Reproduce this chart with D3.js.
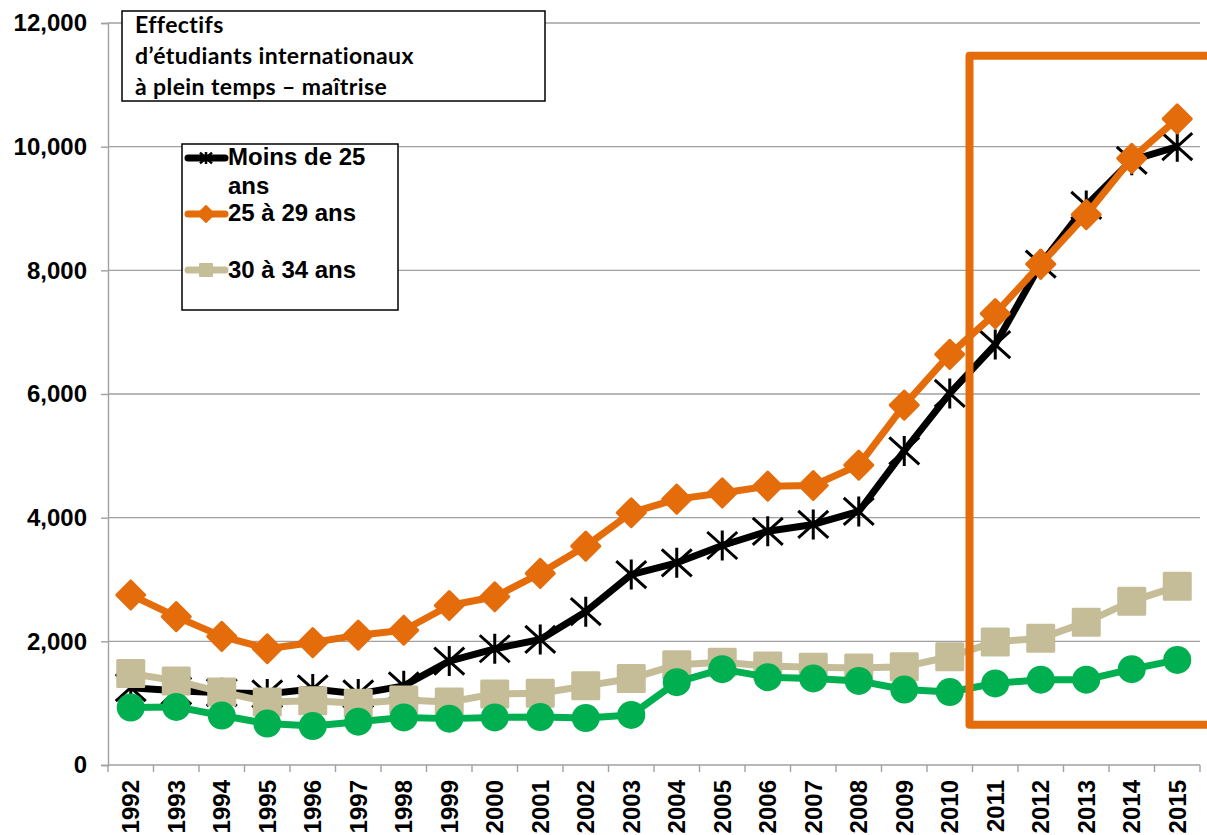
<!DOCTYPE html>
<html>
<head>
<meta charset="utf-8">
<script src="https://cdn.jsdelivr.net/npm/d3@7"></script>
<style>
  body { margin: 0; background: #fff; }
  svg { display: block; }
  .lbl { font-family: "Liberation Sans", Arial, sans-serif; font-weight: bold; font-size: 24px; fill: #000; }
</style>
</head>
<body>
<svg width="1207" height="835"></svg>
<script>
var width = 1207,
    height = 835;

// annees (axe des x)
var years = ["1992","1993","1994","1995","1996","1997","1998","1999","2000","2001","2002","2003",
             "2004","2005","2006","2007","2008","2009","2010","2011","2012","2013","2014","2015"];

// series
var moins25 = [1250,1200,1170,1150,1230,1150,1280,1680,1880,2030,2480,3080,
               3270,3550,3780,3890,4100,5080,6010,6800,8100,9050,9780,10000];
var de25a29 = [2750,2400,2080,1880,1980,2100,2180,2580,2720,3100,3540,4080,
               4300,4400,4510,4520,4850,5820,6640,7300,8100,8900,9810,10450];
var de30a34 = [1480,1360,1180,1020,1040,1000,1050,1020,1150,1160,1280,1400,
               1620,1660,1600,1580,1570,1590,1750,1990,2050,2310,2650,2890];
var serieVerte = [930,940,800,670,630,700,770,750,770,775,760,810,
                  1340,1550,1420,1400,1360,1220,1180,1320,1380,1380,1550,1700];

var yTicks = [0,2000,4000,6000,8000,10000,12000];
var titleLines = ["Effectifs", "d\u2019\u00e9tudiants internationaux", "\u00e0 plein temps \u2013 ma\u00eetrise"];
var legendNames = ["Moins de 25", "ans", "25 \u00e0 29 ans", "30 \u00e0 34 ans"];

// cadre orange (annee de depart, bornes en effectifs)
var boxStart = "2011";
var boxRange = [650, 11470];

var orange = "#e46c0a", tan = "#c4bd97", green = "#00b050", grid = "#a0a0a0";

var svg = d3.select("svg");

var x = d3.scaleBand().domain(years).range([108, 1200]);
var y = d3.scaleLinear().domain([0, 12000]).range([765, 23]);
var cx = function(i) { return x(years[i]) + x.bandwidth() / 2; };

// grille
svg.append("g").selectAll("line")
   .data(yTicks.filter(function(d) { return d > 0; }))
   .enter().append("line")
   .attr("x1", 108).attr("x2", 1200)
   .attr("y1", function(d) { return y(d); })
   .attr("y2", function(d) { return y(d); })
   .attr("stroke", grid).attr("stroke-width", 1.4);

// axe y
var yAxis = svg.append("g")
   .attr("transform", "translate(108,0)")
   .call(d3.axisLeft(y).tickValues(yTicks).tickSize(7).tickPadding(14).tickFormat(d3.format(",")));
yAxis.select(".domain").attr("stroke", grid).attr("stroke-width", 1.4);
yAxis.selectAll(".tick line").attr("stroke", grid).attr("stroke-width", 1.4);
yAxis.selectAll("text").attr("class", "lbl").attr("font-size", null).attr("font-family", null);

// axe x
var xAxis = svg.append("g").attr("transform", "translate(0,765)");
xAxis.append("line").attr("x1", 108).attr("x2", 1200).attr("stroke", grid).attr("stroke-width", 1.4);
xAxis.selectAll(".tk")
   .data(years.concat(["end"]))
   .enter().append("line")
   .attr("x1", function(d) { return d === "end" ? x.range()[1] : x(d); })
   .attr("x2", function(d) { return d === "end" ? x.range()[1] : x(d); })
   .attr("y1", 0).attr("y2", 7)
   .attr("stroke", grid).attr("stroke-width", 1.4);
xAxis.selectAll("text")
   .data(years)
   .enter().append("text")
   .attr("class", "lbl")
   .attr("text-anchor", "end")
   .attr("dy", "0.35em")
   .attr("transform", function(d) { return "translate(" + (x(d) + x.bandwidth() / 2) + ",15) rotate(-90)"; })
   .text(function(d) { return d; });

// marqueurs
var starPath = function(s) {
  return "M0," + (-s) + "V" + s + "M" + (-s) + "," + (-s * 0.9) + "L" + s + "," + (s * 0.9) +
         "M" + (-s) + "," + (s * 0.9) + "L" + s + "," + (-s * 0.9);
};
var diamondPath = function(s) { return "M0," + (-s) + "L" + s + ",0L0," + s + "L" + (-s) + ",0Z"; };
var squarePath = function(s) { return "M" + (-s) + "," + (-s) + "H" + s + "V" + s + "H" + (-s) + "Z"; };

var line = d3.line().x(function(d, i) { return cx(i); }).y(function(d) { return y(d); });

var series = [
  { values: moins25, color: "#000", kind: "star" },
  { values: de25a29, color: orange, kind: "diamond" },
  { values: de30a34, color: tan, kind: "square" },
  { values: serieVerte, color: green, kind: "circle" }
];

series.forEach(function(s) {
  var g = svg.append("g");
  g.append("path")
   .attr("d", line(s.values))
   .attr("fill", "none")
   .attr("stroke", s.color)
   .attr("stroke-width", 7)
   .attr("stroke-linejoin", "round");
  var m = g.selectAll(".m").data(s.values).enter();
  if (s.kind === "circle") {
    m.append("circle")
     .attr("cx", function(d, i) { return cx(i); })
     .attr("cy", function(d) { return y(d); })
     .attr("r", 14).attr("fill", s.color);
  } else if (s.kind === "star") {
    m.append("path")
     .attr("transform", function(d, i) { return "translate(" + cx(i) + "," + y(d) + ")"; })
     .attr("d", starPath(15))
     .attr("stroke", s.color).attr("stroke-width", 3).attr("fill", "none");
  } else {
    m.append("path")
     .attr("transform", function(d, i) { return "translate(" + cx(i) + "," + y(d) + ")"; })
     .attr("d", s.kind === "diamond" ? diamondPath(14) : squarePath(13))
     .attr("fill", s.color).attr("stroke", s.color)
     .attr("stroke-width", 3).attr("stroke-linejoin", "round");
  }
});

// cadre orange 2011-2015
var bx = x(boxStart) - 3;
svg.append("path")
   .attr("d", "M" + (width + 10) + "," + y(boxRange[1]) + "H" + bx + "V" + y(boxRange[0]) + "H" + (width + 10))
   .attr("fill", "none").attr("stroke", orange).attr("stroke-width", 8)
   .attr("stroke-linejoin", "round");

// titre
var tg = svg.append("g");
tg.append("rect").attr("x", 122).attr("y", 11).attr("width", 423).attr("height", 90)
  .attr("fill", "#fff").attr("stroke", "#000").attr("stroke-width", 1.5);
tg.selectAll("text").data(titleLines).enter().append("text")
  .attr("x", 135).attr("y", function(d, i) { return 33 + i * 31; })
  .attr("font-family", "Lato, 'Open Sans', sans-serif").attr("font-weight", "bold")
  .attr("font-size", 23).attr("letter-spacing", 0.4).text(function(d) { return d; });

// legende
var lg = svg.append("g");
lg.append("rect").attr("x", 182).attr("y", 144).attr("width", 216).attr("height", 166)
  .attr("fill", "#fff").attr("stroke", "#000").attr("stroke-width", 1.5);
var legendRows = [
  { y: 158, color: "#000", kind: "star" },
  { y: 214, color: orange, kind: "diamond" },
  { y: 270, color: tan, kind: "square" }
];
legendRows.forEach(function(r) {
  lg.append("line").attr("x1", 188).attr("x2", 225).attr("y1", r.y).attr("y2", r.y)
    .attr("stroke", r.color).attr("stroke-width", 7).attr("stroke-linecap", "round");
  var p = lg.append("path").attr("transform", "translate(206," + r.y + ")");
  if (r.kind === "star") {
    p.attr("d", starPath(6)).attr("stroke", r.color).attr("stroke-width", 2.5).attr("fill", "none");
  } else {
    p.attr("d", r.kind === "diamond" ? diamondPath(8) : squarePath(6))
     .attr("fill", r.color).attr("stroke", r.color).attr("stroke-width", 2).attr("stroke-linejoin", "round");
  }
});
var legendBase = [165, 194, 221, 278];
lg.selectAll("text").data(legendNames).enter().append("text")
  .attr("class", "lbl")
  .attr("x", 228).attr("y", function(d, i) { return legendBase[i]; })
  .text(function(d) { return d; });
</script>
</body>
</html>
